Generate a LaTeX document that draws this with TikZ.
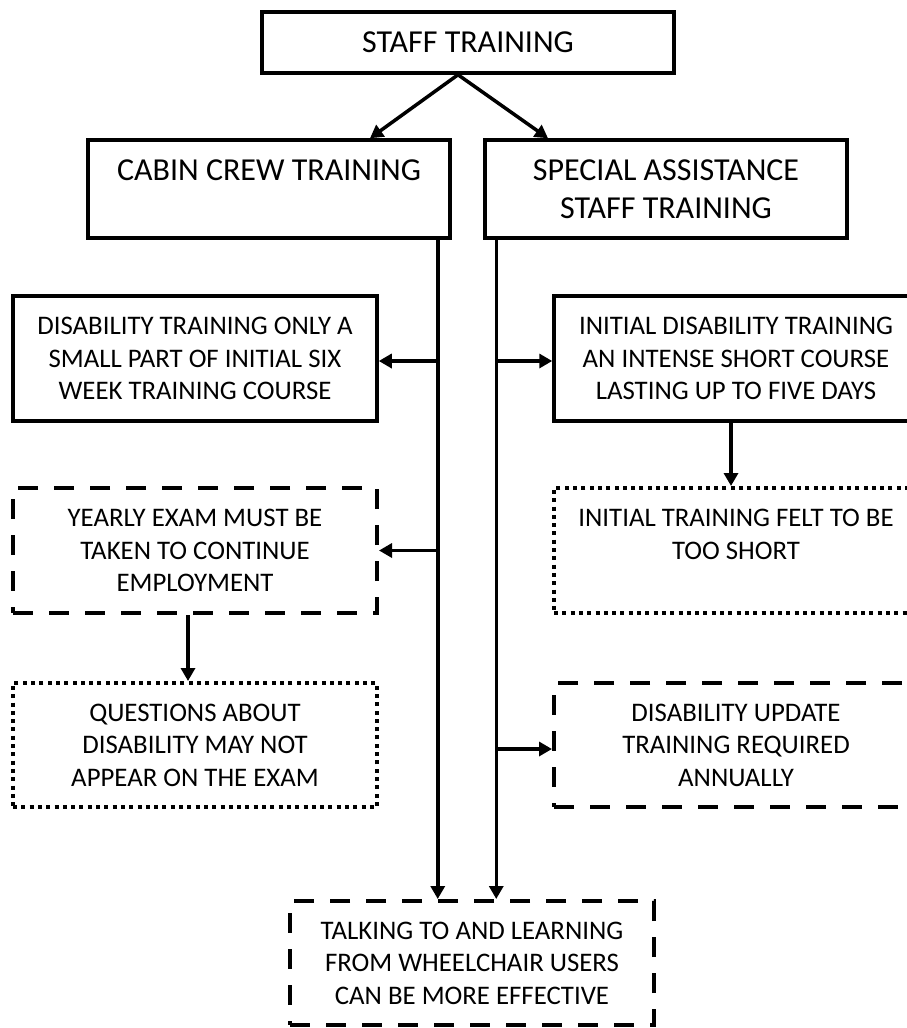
\documentclass[tikz,border=0pt]{standalone}
\usepackage{fontspec}
\setmainfont{Carlito}
\usetikzlibrary{arrows.meta,calc}
\tikzset{
  box/.style={draw, line width=3.5pt, align=center, inner sep=0pt, minimum width=364pt, minimum height=125pt, font=\fontsize{26.8}{32.5}\selectfont},
  bigbox/.style={box, minimum width=362pt, minimum height=98pt, font=\fontsize{32}{37.5}\selectfont},
  dashbox/.style={box, line width=4pt, dash pattern=on 20pt off 16pt},
  dotbox/.style={box, line width=4pt, dash pattern=on 4pt off 4.3pt},
  arr/.style={line width=3.5pt, -{Triangle[width=14pt,length=13pt]}},
}
\begin{document}
\begin{tikzpicture}[x=1pt,y=-1pt]
\useasboundingbox (0,0) rectangle (907,1028);
\clip (0,0) rectangle (907,1028);
\node[bigbox, minimum width=412pt, minimum height=61pt] (staff) at (468,42.5) {STAFF TRAINING};
\node[bigbox] (cabin) at (269,189) {CABIN CREW TRAINING\\\mbox{}};
\node[bigbox] (special) at (666,189) {SPECIAL ASSISTANCE\\STAFF TRAINING};
\node[box] (dis) at (195,358.5) {DISABILITY TRAINING ONLY A\\SMALL PART OF INITIAL SIX\\WEEK TRAINING COURSE};
\node[dashbox] (yearly) at (195,550.5) {YEARLY EXAM MUST BE\\TAKEN TO CONTINUE\\EMPLOYMENT};
\node[dotbox, minimum height=124pt] (questions) at (195,745) {QUESTIONS ABOUT\\DISABILITY MAY NOT\\APPEAR ON THE EXAM};
\node[box] (initdis) at (736,358.5) {INITIAL DISABILITY TRAINING\\AN INTENSE SHORT COURSE\\LASTING UP TO FIVE DAYS};
\node[dotbox] (felt) at (736,550.5) {INITIAL TRAINING FELT TO BE\\TOO SHORT\\\mbox{}};
\node[dashbox, minimum height=124pt] (update) at (736,745) {DISABILITY UPDATE\\TRAINING REQUIRED\\ANNUALLY};
\node[dashbox, minimum height=124pt] (talking) at (472,963) {TALKING TO AND LEARNING\\FROM WHEELCHAIR USERS\\CAN BE MORE EFFECTIVE};
% connectors
\coordinate (apex) at ([xshift=-10pt]staff.south);
\draw[arr] (apex) -- ([xshift=101pt]cabin.north);
\draw[arr] (apex) -- ([xshift=-118pt]special.north);
\coordinate (ltop) at ([xshift=-14pt]cabin.south east);
\coordinate (rtop) at ([xshift=13pt]special.south west);
\draw[arr] (ltop) -- (ltop |- talking.north);
\draw[arr] (rtop) -- (rtop |- talking.north);
\coordinate (b1) at (ltop |- 0,361);
\coordinate (b2) at (ltop |- yearly.east);
\coordinate (b3) at (rtop |- 0,361);
\coordinate (b4) at (rtop |- 0,749);
\draw[arr] (b1) -- (b1 -| dis.east);
\draw[arr] (b2) -- (yearly.east);
\draw[arr] (b3) -- (b3 -| initdis.west);
\draw[arr] (b4) -- (b4 -| update.west);
\draw[arr] ([xshift=-7pt]yearly.south) -- ([xshift=-7pt]questions.north);
\draw[arr] ([xshift=-5pt]initdis.south) -- ([xshift=-5pt]felt.north);
\end{tikzpicture}
\end{document}
